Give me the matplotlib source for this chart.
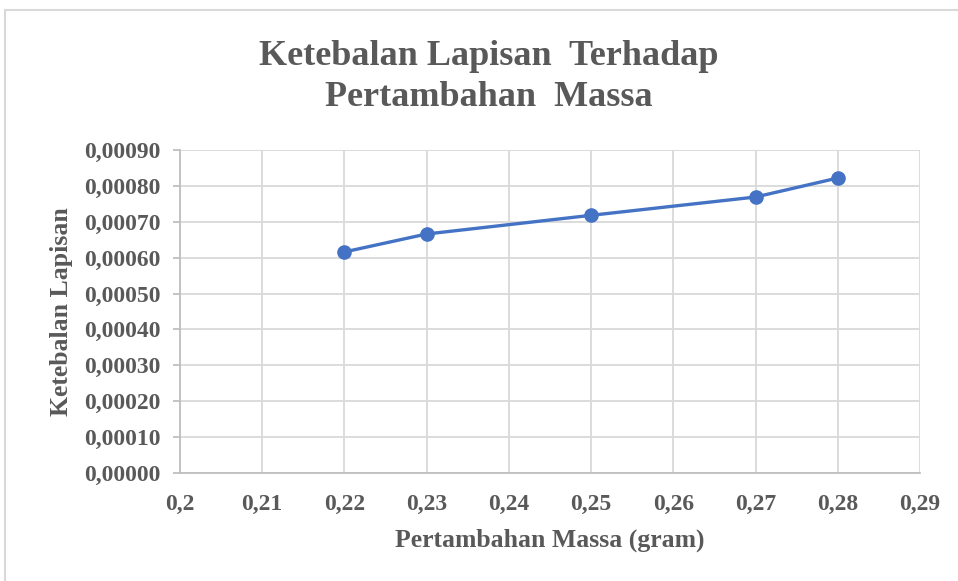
import matplotlib
matplotlib.use("Agg")
import matplotlib.pyplot as plt
from matplotlib.patches import Rectangle
from matplotlib.ticker import FixedLocator, FuncFormatter

# Data
massa = [0.22, 0.23, 0.25, 0.27, 0.28]
ketebalan = [0.000616, 0.000666, 0.000718, 0.000769, 0.000822]
x_ticks = [0.20, 0.21, 0.22, 0.23, 0.24, 0.25, 0.26, 0.27, 0.28, 0.29]
x_tick_labels = ["0,2", "0,21", "0,22", "0,23", "0,24", "0,25", "0,26", "0,27", "0,28", "0,29"]
y_ticks = [0.0000, 0.0001, 0.0002, 0.0003, 0.0004, 0.0005, 0.0006, 0.0007, 0.0008, 0.0009]
title = "Ketebalan Lapisan  Terhadap\nPertambahan  Massa"
xlabel = "Pertambahan Massa (gram)"
ylabel = "Ketebalan Lapisan"

text_color = "#595959"
grid_color = "#D9D9D9"
line_color = "#4472C4"
font = "Liberation Serif"

W, H = 958, 581
fig = plt.figure(figsize=(W / 100, H / 100), dpi=100)
fig.patch.set_facecolor("white")

# outer chart border
fig.patches.append(Rectangle((5 / W, -0.1), 1.2, 1 - 10 / H + 0.1, transform=fig.transFigure,
                             fill=False, edgecolor=grid_color, linewidth=1.5))

ax = fig.add_axes([180 / W, 1 - 473 / H, (920 - 180) / W, (473 - 150) / H])
ax.plot(massa, ketebalan, color=line_color, linewidth=2.4, marker="o",
        markersize=9.5, markerfacecolor=line_color, markeredgecolor=line_color,
        solid_capstyle="round", zorder=3)

ax.set_xlim(0.20, 0.29)
ax.set_ylim(0.0, 0.0009)
ax.xaxis.set_major_locator(FixedLocator(x_ticks))
ax.set_xticklabels(x_tick_labels)
ax.yaxis.set_major_locator(FixedLocator(y_ticks))
ax.yaxis.set_major_formatter(FuncFormatter(lambda v, p: f"{v:.5f}".replace(".", ",")))

ax.grid(True, color=grid_color, linewidth=1.3, zorder=0)
ax.set_axisbelow(True)
for s in ["top", "right"]:
    ax.spines[s].set_visible(False)
for s in ["left", "bottom"]:
    ax.spines[s].set_color("#BFBFBF")
    ax.spines[s].set_linewidth(1.3)

ax.tick_params(axis="y", length=5, width=1.3, color="#BFBFBF", pad=9)
ax.tick_params(axis="x", length=0, pad=15)
for lab in ax.get_xticklabels() + ax.get_yticklabels():
    lab.set_fontfamily(font)
    lab.set_fontweight("bold")
    lab.set_fontsize(17)
    lab.set_color(text_color)

ax.set_xlabel(xlabel, fontfamily=font, fontweight="bold", fontsize=18.5,
              color=text_color, labelpad=10)
ax.set_ylabel(ylabel, fontfamily=font, fontweight="bold", fontsize=18.5,
              color=text_color, labelpad=8)

fig.text(489 / W, 1 - 77 / H, title, ha="center", va="center", fontfamily=font,
         fontweight="bold", fontsize=26, color=text_color, linespacing=1.35)

fig.savefig("out.png", dpi=100, facecolor="white")
